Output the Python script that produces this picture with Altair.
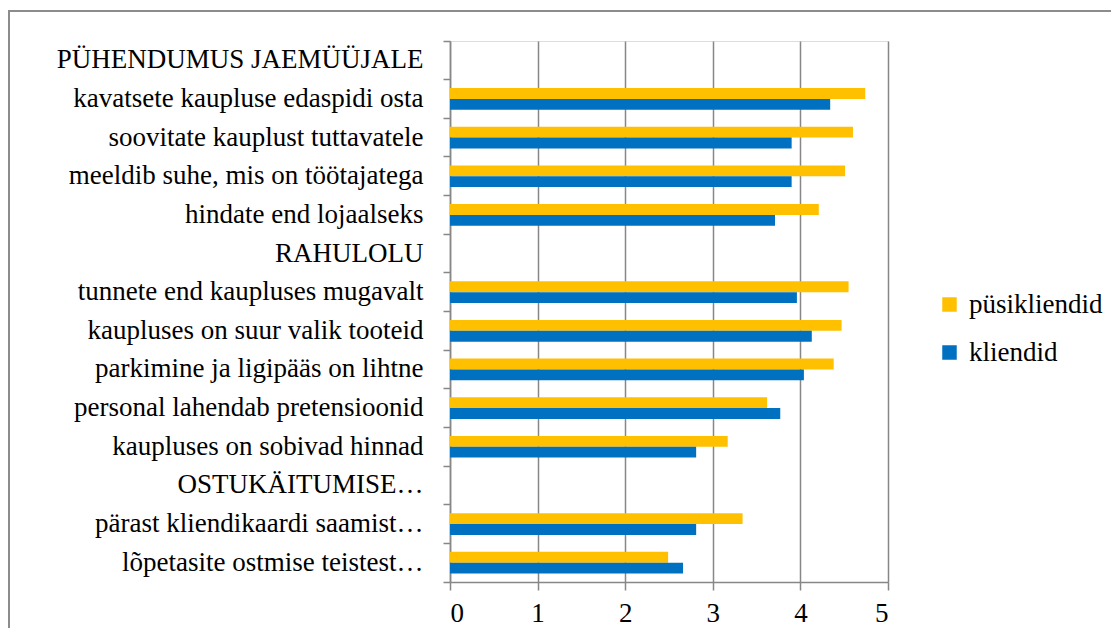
import altair as alt
import pandas as pd

categories = [
    "PÜHENDUMUS JAEMÜÜJALE",
    "kavatsete kaupluse edaspidi osta",
    "soovitate kauplust tuttavatele",
    "meeldib suhe, mis on töötajatega",
    "hindate end lojaalseks ",
    "RAHULOLU",
    "tunnete end kaupluses mugavalt",
    "kaupluses on  suur valik tooteid",
    "parkimine ja ligipääs on lihtne",
    "personal lahendab pretensioonid",
    "kaupluses on  sobivad hinnad ",
    "OSTUKÄITUMISE…",
    "pärast kliendikaardi saamist…",
    "lõpetasite ostmise teistest…",
]
pysikliendid = [None, 4.74, 4.60, 4.51, 4.21, None, 4.55, 4.47, 4.38, 3.62, 3.17, None, 3.34, 2.49]
kliendid = [None, 4.34, 3.90, 3.90, 3.71, None, 3.96, 4.13, 4.04, 3.77, 2.81, None, 2.81, 2.66]
series = ["püsikliendid", "kliendid"]
colors = ["#FFC000", "#0070C0"]
x_ticks = [0, 1, 2, 3, 4, 5]

rows = []
for name, vals in zip(series, [pysikliendid, kliendid]):
    for c, v in zip(categories, vals):
        if v is not None:
            rows.append({"cat": c, "series": name, "value": v})
df = pd.DataFrame(rows)

W, H = 438, 541
GRAY = "#878787"
FONT = "Liberation Serif"
FS = 27

bars = alt.Chart(df).mark_bar().encode(
    x=alt.X(
        "value:Q",
        scale=alt.Scale(domain=[0, 5], nice=False),
        axis=alt.Axis(
            values=x_ticks, title=None, grid=True, gridColor=GRAY, gridWidth=1.5,
            tickSize=8, labelPadding=10, format="d",
            labelFont=FONT, labelFontSize=FS, labelColor="black",
            domainColor=GRAY, domainWidth=1.5, tickColor=GRAY, tickWidth=1.5,
        ),
    ),
    y=alt.Y(
        "cat:N",
        sort=categories,
        scale=alt.Scale(domain=categories, paddingInner=0, paddingOuter=0),
        axis=alt.Axis(
            title=None, bandPosition=1, tickExtra=True, tickSize=7,
            labelPadding=20, labelLimit=500, grid=False,
            labelFont=FONT, labelFontSize=FS, labelColor="black",
            domainColor=GRAY, domainWidth=1.5, tickColor=GRAY, tickWidth=1.5,
        ),
    ),
    yOffset=alt.YOffset(
        "series:N",
        sort=series,
        scale=alt.Scale(domain=series, paddingInner=0, paddingOuter=0.78),
    ),
    color=alt.Color(
        "series:N",
        scale=alt.Scale(domain=series, range=colors),
        legend=alt.Legend(
            title=None, orient="none", legendX=486, legendY=250,
            symbolType="square", symbolSize=210, symbolStrokeWidth=0,
            labelFont=FONT, labelFontSize=FS, labelColor="black",
            labelOffset=6, rowPadding=20, padding=0,
        ),
    ),
)

frame_df = pd.DataFrame({"k": [0]})
top_line = alt.Chart(frame_df).mark_rule(color="#8c8c8c", strokeWidth=2).encode(
    x=alt.value(-441), x2=alt.value(700), y=alt.value(-30)
)
left_line = alt.Chart(frame_df).mark_rule(color="#8c8c8c", strokeWidth=2).encode(
    x=alt.value(-441), y=alt.value(-31), y2=alt.value(H + 80)
)

chart = alt.layer(bars, top_line, left_line).properties(
    width=W,
    height=H,
    padding={"left": 442, "top": 33, "right": 223, "bottom": 46},
    autosize=alt.AutoSizeParams(type="none"),
    background="white",
).configure_view(stroke=None).configure_legend(
    labelFont=FONT, labelFontSize=FS, labelColor="black"
).configure(font=FONT)

chart.save("out.html", embed_options={"renderer": "svg", "actions": False})
